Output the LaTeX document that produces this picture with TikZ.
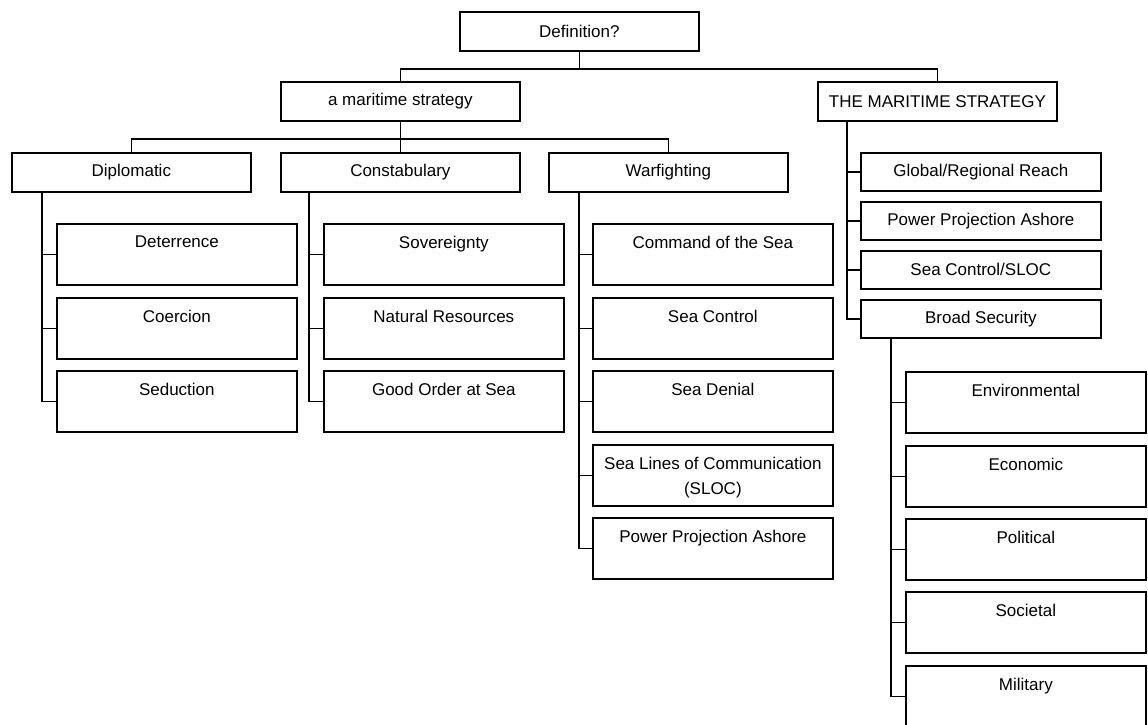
\documentclass[tikz,border=0pt]{standalone}
\usepackage{fontspec}
\setmainfont{Liberation Sans}

\begin{document}
\begin{tikzpicture}[x=1pt,y=-1pt,line width=1.7pt,
    every node/.style={font=\fontsize{17}{25}\selectfont},
    mainbox/.style={draw,anchor=north west,minimum width=239pt,minimum height=39pt,inner sep=0pt},
    smallbox/.style={draw,anchor=north west,minimum width=240pt,minimum height=38pt,inner sep=0pt},
    subbox/.style={draw,anchor=north west,minimum width=240pt,minimum height=61pt,inner sep=0pt},
    subtext/.style={anchor=north,yshift=-12pt,inner sep=0pt,align=center}]
    \useasboundingbox (0,0) rectangle (1148,724);

    % Top and first level
    \node[mainbox] (def) at (459,11) {Definition?};
    \node[mainbox] (strat) at (280,81) {a maritime strategy};
    \node[mainbox] (tms) at (817,81) {THE MARITIME STRATEGY};

    % Second level
    \node[mainbox] (dip) at (11,152) {Diplomatic};
    \node[mainbox] (con) at (280,152) {Constabulary};
    \node[mainbox] (war) at (548,152) {Warfighting};

    % Diplomatic items
    \node[subbox,label={[subtext]north:Deterrence}] (det) at (56,223) {};
    \node[subbox,label={[subtext]north:Coercion}] (coe) at (56,297) {};
    \node[subbox,label={[subtext]north:Seduction}] (sed) at (56,370) {};

    % Constabulary items
    \node[subbox,label={[subtext]north:Sovereignty}] (sov) at (323,223) {};
    \node[subbox,label={[subtext]north:Natural Resources}] (nat) at (323,297) {};
    \node[subbox,label={[subtext]north:Good Order at Sea}] (goo) at (323,370) {};

    % Warfighting items
    \node[subbox,label={[subtext]north:Command of the Sea}] (cmd) at (592,223) {};
    \node[subbox,label={[subtext]north:Sea Control}] (sc) at (592,297) {};
    \node[subbox,label={[subtext]north:Sea Denial}] (sd) at (592,370) {};
    \node[subbox,label={[subtext]north:{Sea Lines of Communication\\(SLOC)}}] (sloc) at (592,444) {};
    \node[subbox,label={[subtext]north:Power Projection Ashore}] (ppa) at (592,517) {};

    % The maritime strategy items
    \node[smallbox] (glob) at (860,152) {Global/Regional Reach};
    \node[smallbox] (ppab) at (860,201) {Power Projection Ashore};
    \node[smallbox] (scsloc) at (860,250) {Sea Control/SLOC};
    \node[smallbox] (broad) at (860,299) {Broad Security};

    % Broad security items
    \node[subbox,label={[subtext]north:Environmental}] (env) at (905,371) {};
    \node[subbox,label={[subtext]north:Economic}] (eco) at (905,445) {};
    \node[subbox,label={[subtext]north:Political}] (pol) at (905,518) {};
    \node[subbox,label={[subtext]north:Societal}] (soc) at (905,591) {};
    \node[subbox,label={[subtext]north:Military}] (mil) at (905,665) {};

    % Tree connectors
    \draw (def.south) -- ++(0,17) -| (strat.north);
    \draw (def.south) -- ++(0,17) -| (tms.north);
    \foreach \b in {dip,con,war}
        \draw (strat.south) -- ++(0,17) -| (\b.north);

    % Side branches
    \foreach \c in {det,coe,sed}
        \draw ([xshift=31pt]dip.south west) |- (\c.west);
    \foreach \c in {sov,nat,goo}
        \draw ([xshift=29pt]con.south west) |- (\c.west);
    \foreach \c in {cmd,sc,sd,sloc,ppa}
        \draw ([xshift=31pt]war.south west) |- (\c.west);
    \foreach \c in {glob,ppab,scsloc,broad}
        \draw ([xshift=30pt]tms.south west) |- (\c.west);
    \foreach \c in {env,eco,pol,soc,mil}
        \draw ([xshift=31pt]broad.south west) |- (\c.west);
\end{tikzpicture}
\end{document}
